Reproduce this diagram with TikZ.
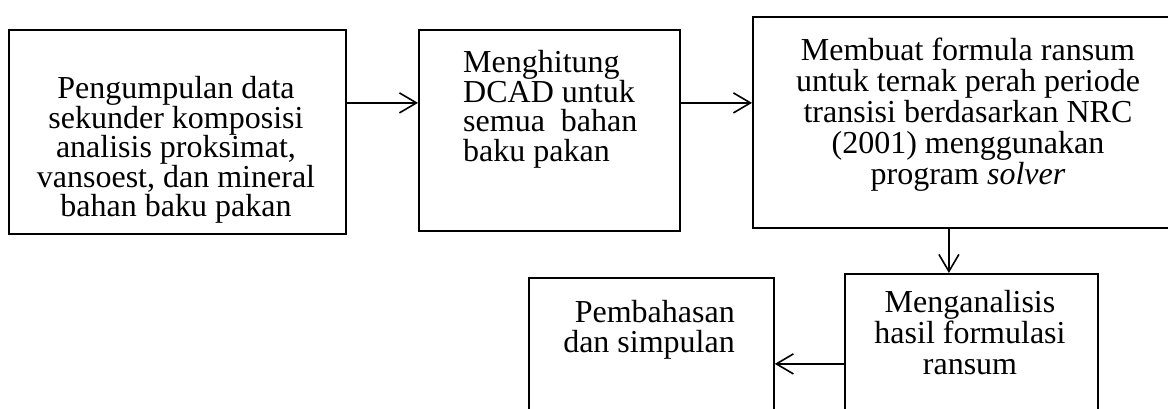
\documentclass[tikz,border=0pt]{standalone}
\usepackage{fontspec}
\setmainfont{Liberation Serif}
\usetikzlibrary{arrows.meta,calc}
\begin{document}
\begin{tikzpicture}[x=1pt,y=-1pt,
  box/.style={draw,line width=1.8pt,inner sep=0pt,anchor=north west},
  txt/.style={font=\fontsize{32}{29.5}\selectfont,inner sep=0pt},
  wide/.style={font=\fontsize{32}{31}\selectfont},
  arr/.style={line width=1.6pt,-{Straight Barb[length=17pt,width=20pt,line width=1.6pt]}}]
\useasboundingbox (0,0) rectangle (1168,409);
% boxes
\node[box,minimum width=337pt,minimum height=204pt] (b1) at (8,29) {};
\node[box,minimum width=261pt,minimum height=201pt] (b2) at (418,29) {};
\node[box,minimum width=440pt,minimum height=211pt] (b3) at (752,16) {};
\node[box,minimum width=253pt,minimum height=170pt] (b4) at (844,273) {};
\node[box,minimum width=245pt,minimum height=170pt] (b5) at (528,277) {};
% texts
\node[txt,align=center] (t1) at (176,150) {Pengumpulan data\\sekunder komposisi\\analisis proksimat,\\vansoest, dan mineral\\bahan baku pakan};
\node[txt,align=left,anchor=west] (t2) at (463,109.5) {Menghitung\\DCAD untuk\\semua\ \ bahan\\baku pakan};
\node[txt,wide,align=center] (t3) at (968,114.5) {Membuat formula ransum\\untuk ternak perah periode\\transisi berdasarkan NRC\\(2001) menggunakan\\program \textit{solver}};
\node[txt,wide,align=center] (t4) at (970,333) {Menganalisis\\hasil formulasi\\ransum};
\node[txt,align=right,anchor=east] (t5) at (735,330) {Pembahasan\\dan simpulan};
% connectors
\draw[arr] ([yshift=29pt]b1.east) -- ([yshift=29pt]b1.east -| b2.west);
\draw[arr] ([yshift=27.5pt]b2.east) -- ([yshift=27.5pt]b2.east -| b3.west);
\draw[arr] ([xshift=-22.5pt]b4.north |- b3.south) -- ([xshift=-22.5pt]b4.north);
\draw[arr] ([yshift=-5pt]b4.west) -- ([yshift=-5pt]b4.west -| b5.east);
\end{tikzpicture}
\end{document}
